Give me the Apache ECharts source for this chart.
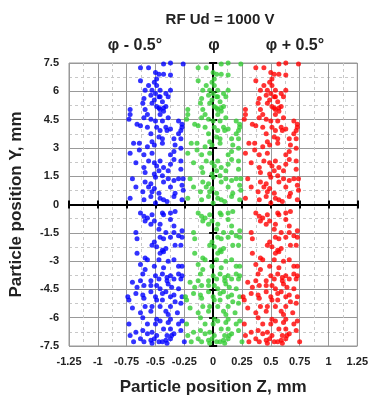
<!DOCTYPE html>
<html>
<head>
<meta charset="utf-8">
<script src="https://cdn.jsdelivr.net/npm/echarts@6/dist/echarts.min.js"></script>
<style>
  html, body { margin: 0; padding: 0; background: #fff; }
  #chart { width: 371px; height: 401px; }
</style>
</head>
<body>
<div id="chart"></div>
<script>
// particle spread around each column centre: [dz, y] in mm (same pattern in all three columns)
const spread = [
  [-0.13,7.25],[-0.06,7.25],[0.07,7.45],[0.13,7.5],[0.24,7.45],
  [0,6.99],[0.03,6.9],[0.07,6.9],[0.13,6.87],
  [-0.13,6.56],[-0.01,6.48],[0.01,6.65],
  [-0.06,6.31],[0.01,6.31],[0.04,6.05],
  [-0.09,6.05],[-0.03,6.05],[0,5.88],
  [-0.04,5.79],[0.03,5.71],[0.09,5.88],[0.13,6.05],
  [-0.1,5.62],[-0.01,5.54],[0.04,5.71],[0.11,5.71],
  [-0.11,5.37],[-0.03,5.37],[0.06,5.45],
  [0.01,5.2],[0.04,5.03],[0.09,5.2],
  [-0.09,5.03],[0.03,5.11],[0.07,5.11],
  [-0.22,5.03],[-0.22,4.77],[-0.23,4.52],
  [-0.16,4.26],[-0.1,4.6],[-0.07,4.77],[0.04,4.77],[0.07,4.94],
  [-0.04,4.52],[0,4.43],[0.06,4.43],[0.11,4.6],[0.2,4.43],[0.23,4.26],
  [-0.13,4.17],[-0.07,4.09],[0.01,4.09],[0.09,4.09],[0.13,4.0],[0.23,4.09],[0.22,3.92],
  [-0.04,3.75],[0.04,3.92],[0.1,3.92],[0.2,3.75],
  [-0.19,3.24],[-0.14,3.24],[-0.03,3.32],[0.03,3.58],[0.06,3.49],[0.16,3.49],[0.22,3.49],
  [-0.22,2.72],[-0.14,2.89],[-0.07,3.06],[-0.01,3.15],[0.06,3.24],[0.17,3.15],[0.22,2.98],
  [-0.1,2.64],[-0.03,2.72],[0.13,2.64],[0.16,2.81],
  [-0.17,2.21],[-0.06,2.3],[-0.01,2.21],[0.04,2.3],[0.16,2.38],[0.22,2.3],
  [-0.1,1.96],[0.01,2.04],[0.07,1.96],[0.13,2.13],
  [-0.09,1.7],[-0.01,1.61],[0.03,1.79],[0.11,1.79],[0.22,1.87],
  [-0.2,1.36],[0,1.44],[0.06,1.53],[0.11,1.36],[0.2,1.36],[0.24,1.36],
  [-0.09,1.19],[-0.04,1.1],[0.07,1.19],[0.16,1.27],
  [-0.17,0.93],[-0.06,0.93],[-0.01,0.85],[0.13,0.93],[0.23,1.02],
  [-0.11,0.67],[-0.03,0.67],[0.03,0.59],[0.17,0.59],[0.24,0.76],
  [-0.22,0.33],[-0.1,0.25],[-0.04,0.42],[0.04,0.33],[0.07,0.25],[0.16,0.42],[0.23,0.25],
  [0,0.08],[0.1,0.16],
  [-0.13,-0.45],[-0.1,-0.62],[-0.07,-0.71],[-0.03,-0.54],[0.06,-0.45],[0.07,-0.54],[0.13,-0.45],[0.17,-0.37],
  [-0.09,-0.88],[-0.04,-1.05],[-0.01,-0.88],[0.04,-1.05],[0.13,-0.79],[0.16,-1.14],
  [-0.17,-1.48],[0.03,-1.31],[0.09,-1.48],[0.16,-1.48],[0.23,-1.39],
  [-0.16,-1.82],[-0.01,-1.99],[0.04,-1.73],[0.07,-1.82],[0.13,-1.73],[0.2,-1.65],[0.23,-1.73],
  [-0.03,-2.16],[0.01,-2.24],[0.06,-2.42],[0.09,-2.33],[0.17,-2.16],[0.22,-2.16],
  [-0.16,-2.59],[0.04,-2.59],[0.07,-2.5],
  [-0.09,-2.84],[-0.07,-2.93],[0.03,-2.93],[0.11,-3.01],[0.16,-2.93],
  [-0.13,-3.18],[-0.09,-3.44],[-0.01,-3.27],[0.07,-3.35],[0.2,-3.27],[0.23,-3.27],
  [-0.11,-3.69],[0,-3.78],[0.06,-3.69],[0.1,-3.87],[0.13,-3.78],[0.2,-3.69],[0.23,-3.78],
  [-0.2,-4.12],[-0.13,-4.04],[-0.04,-4.04],[0.03,-3.95],[0.1,-4.04],[0.16,-3.95],[0.22,-3.95],
  [-0.16,-4.38],[-0.1,-4.29],[-0.04,-4.29],[0.01,-4.29],[0.04,-4.46],[0.11,-4.21],[0.14,-4.38],[0.2,-4.46],
  [-0.24,-4.89],[-0.17,-4.72],[-0.11,-4.8],[-0.04,-4.63],[0,-4.89],[0.06,-4.72],[0.09,-4.63],[0.13,-4.89],[0.16,-4.8],[0.23,-4.89],
  [-0.23,-5.06],[-0.1,-4.97],[0.01,-5.06],[0.06,-5.06],[0.17,-5.15],[0.22,-5.23],
  [-0.2,-5.49],[-0.09,-5.4],[-0.03,-5.4],[0.04,-5.4],[0.13,-5.4],
  [-0.13,-5.74],[-0.04,-5.66],[0.09,-5.66],[0.11,-5.83],[0.19,-5.74],
  [-0.11,-6.0],[0.01,-6.08],[0.04,-6.17],[0.13,-6.08],[0.23,-6.17],
  [-0.23,-6.34],[-0.07,-6.34],[0,-6.34],[0.11,-6.25],[0.2,-6.34],
  [-0.17,-6.77],[-0.11,-6.68],[-0.03,-6.77],[0.07,-6.6],[0.13,-6.6],
  [-0.22,-6.94],[-0.07,-6.85],[0.01,-6.94],[0.1,-6.94],[0.16,-6.85],[0.22,-6.68],
  [-0.13,-7.11],[-0.04,-7.19],[-0.01,-7.11],[0.06,-7.28],[0.09,-7.19],[0.13,-7.11],[0.14,-6.94],
  [-0.19,-7.28],[-0.1,-7.28],[-0.03,-7.36],[0.03,-7.28],[0.1,-7.36],[0.25,-7.28]
];
const centers = [-0.5, 0, 0.5];
const seriesNames = ['φ - 0.5°', 'φ', 'φ + 0.5°'];
const colors = ['#0000ff', '#33cc33', '#ff0000'];

const FONT = '"Liberation Sans", Arial, sans-serif';
const chart = echarts.init(document.getElementById('chart'));

// black zero lines with ticks crossing both sides
const zeroAxisX = (inside) => ({
  type: 'value', min: -1.25, max: 1.25, interval: 0.25, position: 'bottom',
  axisLine: { show: true, onZero: true, onZeroAxisIndex: 0, lineStyle: { color: '#000', width: 2 } },
  axisTick: { show: true, inside: inside, length: 4, lineStyle: { color: '#000', width: 2 } },
  axisLabel: { show: false }, splitLine: { show: false }
});
const zeroAxisY = (inside) => ({
  type: 'value', min: -7.5, max: 7.5, interval: 1.5, position: 'left',
  axisLine: { show: true, onZero: true, onZeroAxisIndex: 0, lineStyle: { color: '#000', width: 2 } },
  axisTick: { show: true, inside: inside, length: 4, lineStyle: { color: '#000', width: 2 } },
  axisLabel: { show: false }, splitLine: { show: false }
});

chart.setOption({
  animation: false,
  textStyle: { fontFamily: FONT },
  title: [
    { text: 'RF Ud = 1000 V', left: 215, top: 7, textAlign: 'center',
      textStyle: { fontSize: 15, fontWeight: 'bold', color: '#222', fontFamily: FONT } }
  ],
  graphic: seriesNames.map((n, i) => ({
    type: 'text', x: [135, 214, 295][i], y: 46,
    style: { text: n, fill: '#222', font: 'bold 16px ' + FONT, textAlign: 'center', textVerticalAlign: 'middle' }
  })),
  grid: { left: 68, right: 13, top: 63, bottom: 45, show: true, borderColor: '#999', borderWidth: 1 },
  xAxis: [
    {
      type: 'value', min: -1.25, max: 1.25, interval: 0.25, position: 'bottom',
      name: 'Particle position Z, mm', nameLocation: 'middle', nameGap: 33,
      nameTextStyle: { fontSize: 17, fontWeight: 'bold', color: '#222', fontFamily: FONT },
      axisLine: { show: false, onZero: false }, axisTick: { show: false },
      axisLabel: { fontSize: 11, fontWeight: 'bold', color: '#222', margin: 10, fontFamily: FONT },
      splitLine: { show: true, lineStyle: { color: '#999', width: 1 } },
      minorTick: { show: false, splitNumber: 2 },
      minorSplitLine: { show: true, lineStyle: { color: '#c8c8c8', type: [3, 3], width: 1 } }
    },
    zeroAxisX(true),
    zeroAxisX(false)
  ],
  yAxis: [
    {
      type: 'value', min: -7.5, max: 7.5, interval: 1.5, position: 'left',
      name: 'Particle position Y, mm', nameLocation: 'middle', nameGap: 44,
      nameTextStyle: { fontSize: 17, fontWeight: 'bold', color: '#222', fontFamily: FONT },
      axisLine: { show: false, onZero: false }, axisTick: { show: false },
      axisLabel: { fontSize: 11, fontWeight: 'bold', color: '#222', margin: 10, fontFamily: FONT },
      splitLine: { show: true, lineStyle: { color: '#999', width: 1 } },
      minorTick: { show: false, splitNumber: 2 },
      minorSplitLine: { show: true, lineStyle: { color: '#c8c8c8', type: [3, 3], width: 1 } }
    },
    zeroAxisY(true),
    zeroAxisY(false)
  ],
  series: centers.map((c, i) => ({
    name: seriesNames[i],
    type: 'scatter',
    symbol: 'circle',
    symbolSize: 5,
    itemStyle: { color: colors[i] },
    data: spread.map(p => [c + p[0], p[1]])
  }))
});
</script>
</body>
</html>
